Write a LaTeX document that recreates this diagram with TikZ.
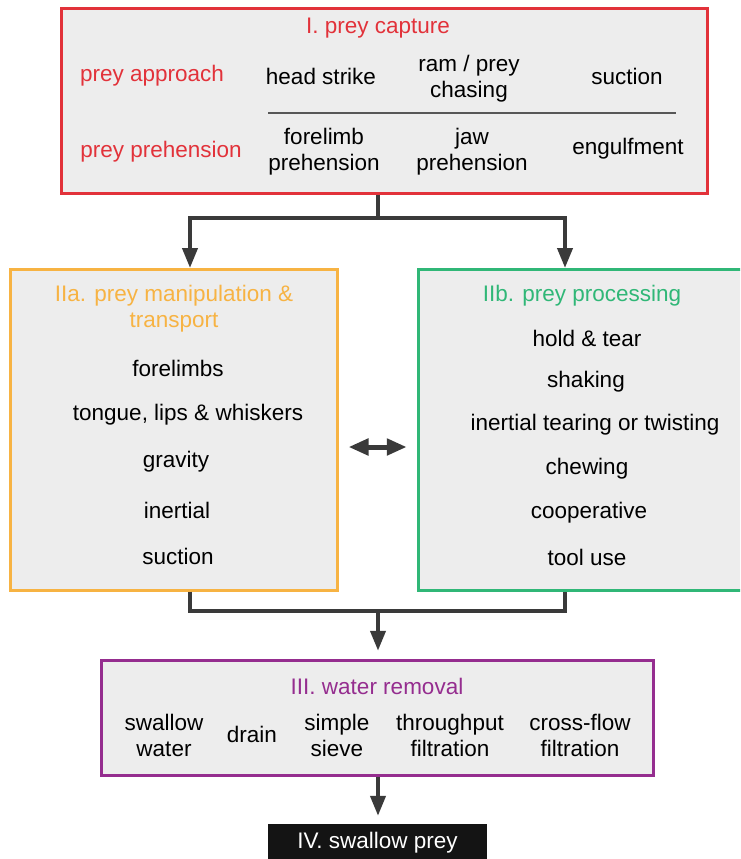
\documentclass[tikz,border=0pt]{standalone}
\usepackage{fontspec}
\setmainfont{Liberation Sans}
\usetikzlibrary{arrows.meta}
\definecolor{capred}{HTML}{E2323A}
\definecolor{maniporange}{HTML}{F7B343}
\definecolor{procgreen}{HTML}{30B777}
\definecolor{waterpurple}{HTML}{952D8F}
\definecolor{boxgray}{HTML}{EDEDED}
\definecolor{arrgray}{HTML}{3A3A3A}
\begin{document}
\begin{tikzpicture}[x=1pt, y=-1pt,
  every node/.style={align=center, font=\fontsize{22.5}{26}\selectfont},
  stagebox/.style={draw, line width=3pt, fill=boxgray, inner sep=0pt},
  conn/.style={draw=arrgray, line width=4pt},
  arr/.style={conn, -{Triangle[length=20pt, width=15pt]}}]
\useasboundingbox (0,0) rectangle (740,859);
\clip (0,0) rectangle (740,859);

% stage boxes
\node[stagebox, draw=capred, minimum width=646pt, minimum height=184pt] at (384,101) (cap) {};
\node[stagebox, draw=maniporange, minimum width=326.5pt, minimum height=320.5pt] at (173.75,429.75) (manip) {};
\node[stagebox, draw=procgreen, minimum width=341.5pt, minimum height=320.5pt] at (589,429.75) (proc) {};
\node[stagebox, draw=waterpurple, minimum width=552pt, minimum height=115pt] at (377,717.75) (water) {};
\node[fill=black!92, text=white, minimum width=219pt, minimum height=38pt, inner sep=0pt] at (377.5,843) (swallow) {\raisebox{-3pt}{IV. swallow prey}};

% I. prey capture
\node[text=capred] at (378,28) (captitle) {I. prey capture};
\node[text=capred] at (152,76) (approach) {prey approach};
\node at (321,76) (headstrike) {head strike};
\node at (469,79) (ramchase) {ram / prey\\chasing};
\node at (627,76) (capsuction) {suction};
\draw[arrgray!85, line width=2pt] (268,113) -- (676,113);
\node[text=capred] at (161,152) (prehension) {prey prehension};
\node at (324,152) (forelimbpre) {forelimb\\prehension};
\node at (472,152) (jawpre) {jaw\\prehension};
\node at (628,149) (engulf) {engulfment};

% IIa. prey manipulation & transport
\node[text=maniporange] at (174,309) (maniptitle) {IIa. prey manipulation \&\\transport};
\node at (178,368) (forelimbs) {forelimbs};
\node at (188,415) (tongue) {tongue, lips \& whiskers};
\node at (176,462) (gravity) {gravity};
\node at (177,510) (inertial) {inertial};
\node at (178,556) (manipsuction) {suction};

% IIb. prey processing
\node[text=procgreen] at (582,296) (proctitle) {IIb. prey processing};
\node at (587,338) (holdtear) {hold \& tear};
\node at (586,382) (shaking) {shaking};
\node at (595,425) (twisting) {inertial tearing or twisting};
\node at (587,469) (chewing) {chewing};
\node at (589,513) (cooperative) {cooperative};
\node at (587,557) (tooluse) {tool use};

% III. water removal
\node[text=waterpurple] at (377,686) (watertitle) {III. water removal};
\node at (164,735) (swallowwater) {swallow\\water};
\node at (252,734) (drain) {drain};
\node at (337,735) (sieve) {simple\\sieve};
\node at (450,735) (throughput) {throughput\\filtration};
\node at (580,735) (crossflow) {cross-flow\\filtration};

% connectors
\coordinate (forkL) at (190,218);
\coordinate (forkC) at (378,218);
\coordinate (forkR) at (565,218);
\coordinate (joinL) at (190,611);
\coordinate (joinC) at (378,611);
\coordinate (joinR) at (565,611);
\coordinate (mid) at (378,447);
\draw[conn] (forkC |- cap.south) -- (forkC);
\draw[arr] (forkR) -- (forkL) -- (forkL |- manip.north);
\draw[arr] (forkL) -- (forkR) -- (forkR |- proc.north);
\draw[conn] (forkL |- manip.south) -- (joinL) -- (joinR) -- (forkR |- proc.south);
\draw[arr, shorten >=8pt] (joinC) -- (joinC |- water.north);
\draw[arr, shorten >=8pt] (joinC |- water.south) -- (joinC |- swallow.north);
\draw[conn, line width=5pt, {Triangle[length=20pt, width=16pt]}-{Triangle[length=20pt, width=16pt]}, shorten <=10pt, shorten >=10pt] (manip.east |- mid) -- (proc.west |- mid);
\end{tikzpicture}
\end{document}
